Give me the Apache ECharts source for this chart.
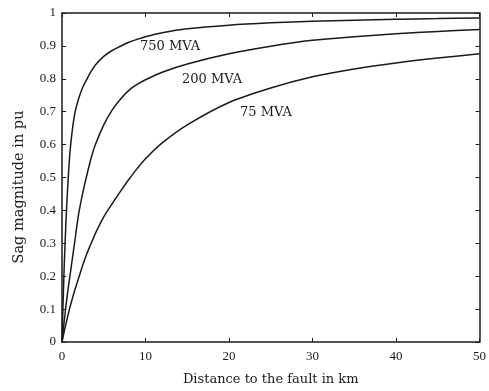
<!DOCTYPE html>
<html>
<head>
<meta charset="utf-8">
<script src="https://cdn.jsdelivr.net/npm/echarts@6/dist/echarts.min.js"></script>
<style>html,body{margin:0;padding:0;background:#fff}#c{width:489px;height:391px}</style>
</head>
<body>
<div id="c"></div>
<script>
// Distance to the fault (km)
var distance = [0,0.25,0.5,0.75,1,1.5,2,2.5,3,3.5,4,5,6,7,8,9,10,12,15,20,25,30,35,40,45,50];
// Sag magnitude (pu) for each source strength
var sag750 = [0,0.22,0.38,0.5,0.59,0.69,0.74,0.775,0.8,0.823,0.842,0.868,0.886,0.899,0.911,0.92,0.928,0.94,0.952,0.963,0.97,0.975,0.978,0.981,0.983,0.985];
var sag200 = [0,0.06,0.115,0.165,0.21,0.3,0.39,0.455,0.51,0.56,0.6,0.66,0.705,0.738,0.765,0.783,0.797,0.82,0.845,0.876,0.899,0.917,0.928,0.937,0.944,0.95];
var sag75  = [0,0.03,0.058,0.085,0.11,0.155,0.195,0.235,0.27,0.3,0.33,0.38,0.42,0.458,0.494,0.527,0.557,0.605,0.66,0.728,0.772,0.806,0.83,0.848,0.863,0.876];
var seriesNames = ['750 MVA','200 MVA','75 MVA'];
var xTicks = [0,10,20,30,40,50];
var yTicks = [0,0.1,0.2,0.3,0.4,0.5,0.6,0.7,0.8,0.9,1];

function pairs(ys){ return distance.map(function(d,i){ return [d, ys[i]]; }); }

var ink = '#1a1a1a';
var tickFont = {fontFamily:'Liberation Serif', fontSize:13, color:ink};
var chart = echarts.init(document.getElementById('c'), null, {renderer:'canvas'});
function axisCommon(){
  return {
    axisLine:{show:true, onZero:false, lineStyle:{color:ink, width:1.5}},
    axisTick:{show:true, inside:true, length:4, lineStyle:{color:ink, width:1}},
    splitLine:{show:false}
  };
}
chart.setOption({
  animation:false,
  backgroundColor:'#fff',
  grid:{left:62, right:6, top:13, bottom:48, containLabel:false},
  xAxis:[
    Object.assign({type:'value', min:0, max:50, interval:10, position:'bottom',
      name:'Distance to the fault in km', nameLocation:'middle', nameGap:31,
      nameTextStyle:{fontFamily:'DejaVu Serif', fontSize:13, color:ink},
      axisLabel:Object.assign({margin:8, formatter:function(v){return xTicks.indexOf(v)>=0?String(v):'';}}, tickFont)}, axisCommon()),
    Object.assign({type:'value', min:0, max:50, interval:10, position:'top', axisLabel:{show:false}}, axisCommon())
  ],
  yAxis:[
    Object.assign({type:'value', min:0, max:1, interval:0.1, position:'left',
      axisLabel:Object.assign({margin:6, formatter:function(v){var r=Math.round(v*10)/10; return yTicks.indexOf(r)>=0?String(r):'';}}, tickFont)}, axisCommon()),
    Object.assign({type:'value', min:0, max:1, interval:0.1, position:'right', axisLabel:{show:false}}, axisCommon())
  ],
  series:[sag750, sag200, sag75].map(function(s,i){
    return {type:'line', name:seriesNames[i], data:pairs(s), smooth:0.3, showSymbol:false, symbol:'none',
      lineStyle:{color:ink, width:1.5}};
  }),
  graphic:[
    {type:'text', x:19, y:187, rotation:Math.PI/2,
      style:{text:'Sag magnitude in pu', fontFamily:'DejaVu Serif', fontSize:14.5, fill:ink, align:'center', verticalAlign:'middle'}},
    {type:'text', x:140, y:47, style:{text:seriesNames[0], fontFamily:'DejaVu Serif', fontSize:13, fill:ink, align:'left', verticalAlign:'middle'}},
    {type:'text', x:182, y:80, style:{text:seriesNames[1], fontFamily:'DejaVu Serif', fontSize:13, fill:ink, align:'left', verticalAlign:'middle'}},
    {type:'text', x:240, y:113, style:{text:seriesNames[2], fontFamily:'DejaVu Serif', fontSize:13, fill:ink, align:'left', verticalAlign:'middle'}}
  ]
});
</script>
</body>
</html>
